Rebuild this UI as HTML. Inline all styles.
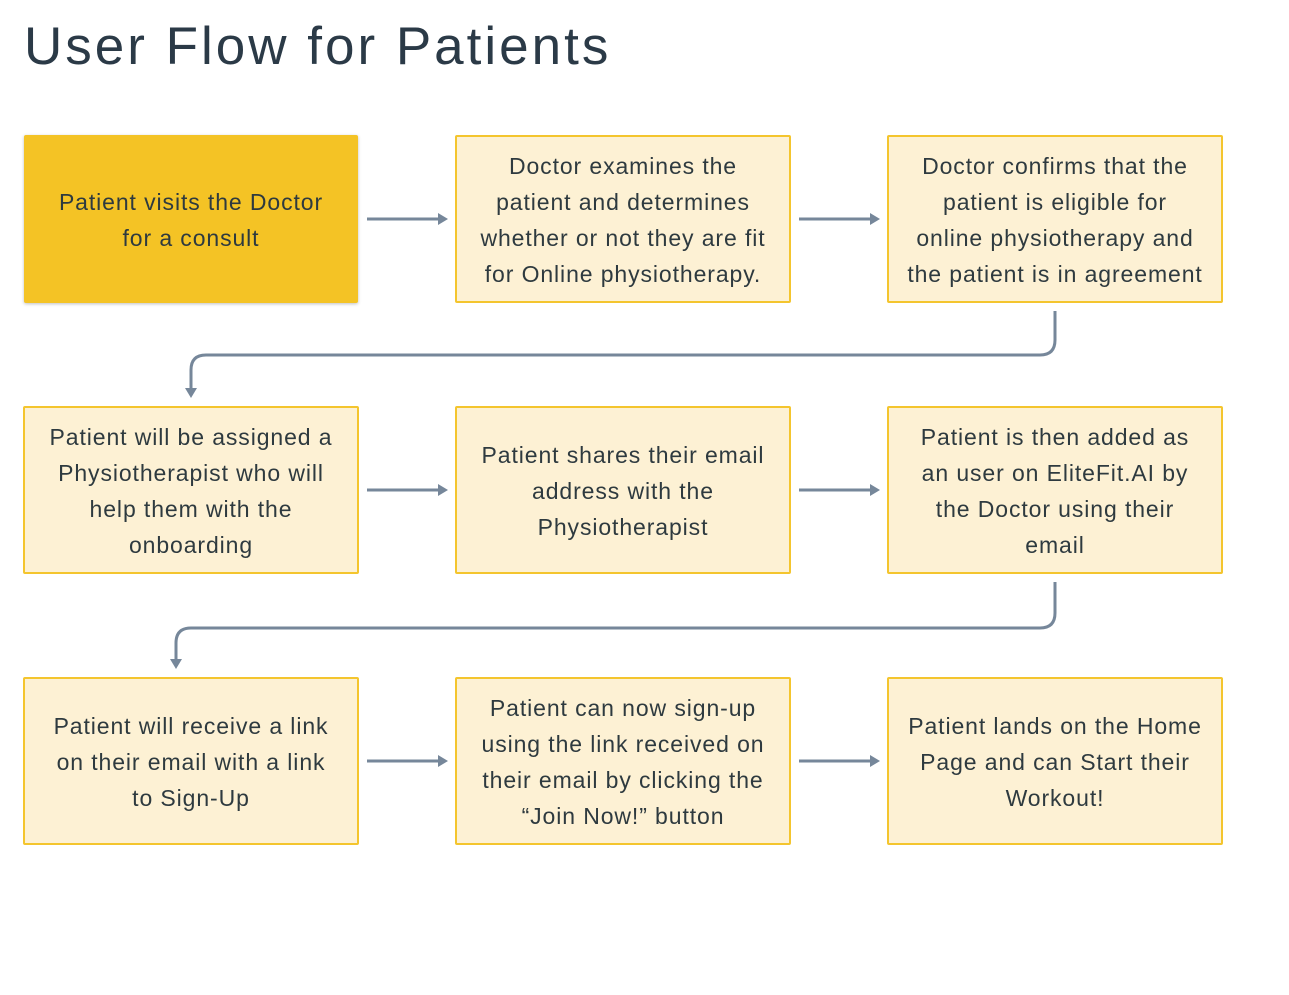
<!DOCTYPE html>
<html><head><meta charset="utf-8"><style>
body{margin:0;width:1289px;height:995px;background:#fff;position:relative;font-family:"Liberation Sans",sans-serif;overflow:hidden}
h1{position:absolute;left:24px;top:16px;margin:0;font-weight:normal;font-size:53px;color:#2b3a47;letter-spacing:3px}
.b{position:absolute;box-sizing:border-box;background:#fdf1d4;border:2px solid #f4c52e;border-radius:2px;display:flex;align-items:center;justify-content:center;text-align:center;font-size:23px;line-height:36px;color:#2e3a3f;white-space:nowrap;letter-spacing:0.9px;padding-top:2px}
.y{background:#f4c325;border:none;box-shadow:0 1px 3px rgba(0,0,0,.25)}
svg{position:absolute;left:0;top:0}
</style></head><body>
<h1>User Flow for Patients</h1>
<div class="b y" style="left:24px;top:135px;width:334px;height:168px">Patient visits the Doctor<br>for a consult</div>
<div class="b" style="left:455px;top:135px;width:336px;height:168px">Doctor examines the<br>patient and determines<br>whether or not they are fit<br>for Online physiotherapy.</div>
<div class="b" style="left:887px;top:135px;width:336px;height:168px">Doctor confirms that the<br>patient is eligible for<br>online physiotherapy and<br>the patient is in agreement</div>
<div class="b" style="left:23px;top:406px;width:336px;height:168px">Patient will be assigned a<br>Physiotherapist who will<br>help them with the<br>onboarding</div>
<div class="b" style="left:455px;top:406px;width:336px;height:168px">Patient shares their email<br>address with the<br>Physiotherapist</div>
<div class="b" style="left:887px;top:406px;width:336px;height:168px">Patient is then added as<br>an user on EliteFit.AI by<br>the Doctor using their<br>email</div>
<div class="b" style="left:23px;top:677px;width:336px;height:168px">Patient will receive a link<br>on their email with a link<br>to Sign-Up</div>
<div class="b" style="left:455px;top:677px;width:336px;height:168px">Patient can now sign-up<br>using the link received on<br>their email by clicking the<br>“Join Now!” button</div>
<div class="b" style="left:887px;top:677px;width:336px;height:168px">Patient lands on the Home<br>Page and can Start their<br>Workout!</div>
<svg width="1289" height="995" fill="none" stroke="#76879a" stroke-width="3">
<defs><marker id="a" markerWidth="10" markerHeight="12" refX="2" refY="6" orient="auto" markerUnits="userSpaceOnUse"><path d="M0,0L10,6L0,12z" fill="#76879a" stroke="none"/></marker></defs>
<path d="M367 219H440" marker-end="url(#a)"/>
<path d="M799 219H872" marker-end="url(#a)"/>
<path d="M367 490H440" marker-end="url(#a)"/>
<path d="M799 490H872" marker-end="url(#a)"/>
<path d="M367 761H440" marker-end="url(#a)"/>
<path d="M799 761H872" marker-end="url(#a)"/>
<path d="M1055 311V340Q1055 355 1040 355H206Q191 355 191 370V390" marker-end="url(#a)"/>
<path d="M1055 582V613Q1055 628 1040 628H191Q176 628 176 643V661" marker-end="url(#a)"/>
</svg>
</body></html>
